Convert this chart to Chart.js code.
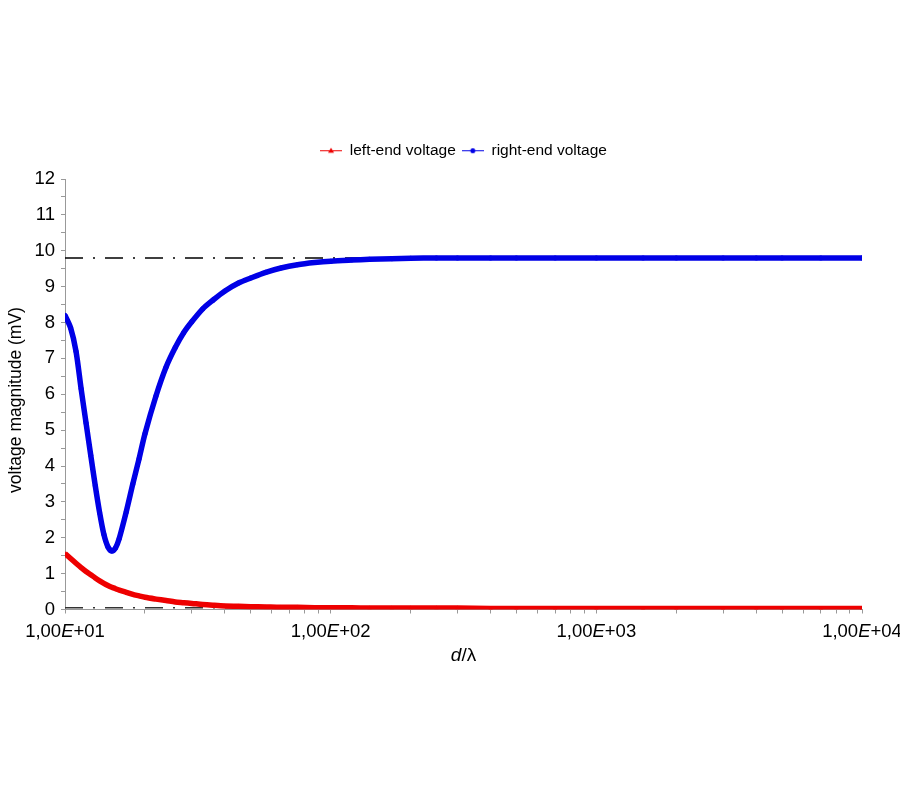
<!DOCTYPE html>
<html>
<head>
<meta charset="utf-8">
<script src="https://cdn.jsdelivr.net/npm/chart.js@4.4.1/dist/chart.umd.min.js"></script>
<style>
  body { margin: 0; background: #fff; }
</style>
</head>
<body>
<canvas id="voltageChart" width="900" height="800"></canvas>
<script>
// sample positions along d/lambda (log axis)
const ratios = [10, 10.5, 11, 11.5, 12, 12.5, 13, 13.5, 14, 14.5, 15, 15.5, 16, 17, 18, 19, 20, 22, 24, 26, 28, 30, 33, 36, 40, 45, 50, 57, 65, 75, 87, 100, 120, 140, 170, 200, 250, 300, 400, 500, 700, 1000, 1500, 2000, 3000, 4000, 5000, 7000, 10000];
const leftEnd = [1.56, 1.42, 1.29, 1.17, 1.06, 0.97, 0.88, 0.8, 0.73, 0.67, 0.62, 0.58, 0.54, 0.48, 0.42, 0.38, 0.34, 0.29, 0.25, 0.21, 0.19, 0.17, 0.14, 0.12, 0.1, 0.09, 0.08, 0.07, 0.06, 0.06, 0.05, 0.05, 0.05, 0.04, 0.04, 0.04, 0.04, 0.04, 0.03, 0.03, 0.03, 0.03, 0.03, 0.03, 0.03, 0.03, 0.03, 0.03, 0.03];
const rightEnd = [8.2, 7.85, 7.2, 6.15, 5.2, 4.3, 3.45, 2.7, 2.1, 1.75, 1.63, 1.72, 1.98, 2.72, 3.5, 4.2, 4.9, 5.95, 6.75, 7.3, 7.72, 8.02, 8.38, 8.62, 8.88, 9.1, 9.24, 9.4, 9.52, 9.61, 9.67, 9.71, 9.74, 9.76, 9.78, 9.79, 9.8, 9.8, 9.8, 9.8, 9.8, 9.8, 9.8, 9.8, 9.8, 9.8, 9.8, 9.8, 9.8];

// asymptote levels (dash-dot lines)
const refHigh = 9.8;
const refLow = 0.05;

const xTicks = [10, 20, 30, 40, 50, 60, 70, 80, 90, 100, 200, 300, 400, 500, 600, 700, 800, 900, 1000, 2000, 3000, 4000, 5000, 6000, 7000, 8000, 9000, 10000];
const xMajor = [10, 100, 1000, 10000];
const xMajorLabels = ['1,00E+01', '1,00E+02', '1,00E+03', '1,00E+04'];
const seriesNames = ['left-end voltage', 'right-end voltage'];
const yTitle = 'voltage magnitude (mV)';

const RED = '#ee0000';
const BLUE = '#0000e6';
const FONT = '"Liberation Sans", Arial, sans-serif';

const toPoints = ys => ratios.map((r, i) => ({ x: r, y: ys[i] }));
const flat = v => [{ x: ratios[0], y: v }, { x: ratios[ratios.length - 1], y: v }];

// little line+marker sample for the legend
function legendSample(color, marker) {
    const c = document.createElement('canvas');
    c.width = 22; c.height = 9;
    const g = c.getContext('2d');
    g.strokeStyle = color; g.fillStyle = color; g.lineWidth = 1;
    g.beginPath(); g.moveTo(0, 4.5); g.lineTo(22, 4.5); g.stroke();
    g.beginPath();
    if (marker === 'triangle') {
        g.moveTo(11, 1.5); g.lineTo(14, 6.5); g.lineTo(8, 6.5); g.closePath();
    } else {
        g.arc(11, 4.5, 2.5, 0, Math.PI * 2);
    }
    g.fill();
    return c;
}
const legendIcons = [legendSample(RED, 'triangle'), legendSample(BLUE, 'circle')];

function drawRun(ctx, segs, cx, y, size) {
    const widths = segs.map(([t, st]) => {
        ctx.font = st + size + 'px ' + FONT;
        return ctx.measureText(t).width;
    });
    let x = cx - widths.reduce((a, b) => a + b, 0) / 2;
    segs.forEach(([t, st], i) => {
        ctx.font = st + size + 'px ' + FONT;
        ctx.fillText(t, x, y);
        x += widths[i];
    });
}

// axis titles and x tick labels (italic parts)
const axisText = {
    id: 'axisText',
    beforeInit(chart) {
        const fit = chart.legend.fit;
        chart.legend.fit = function () {
            fit.call(this);
            this.height += 10.5;
        };
    },
    afterDraw(chart) {
        const ctx = chart.ctx;
        const xs = chart.scales.x;
        ctx.save();
        ctx.fillStyle = '#000';
        ctx.textBaseline = 'middle';
        ctx.textAlign = 'left';
        xMajorLabels.forEach((label, i) => {
            const parts = label.split('E');
            drawRun(ctx, [[parts[0], ''], ['E', 'italic '], [parts[1], '']], xs.getPixelForValue(xMajor[i]), 632, 18.5);
        });
        const mid = (chart.chartArea.left + chart.chartArea.right) / 2;
        drawRun(ctx, [['d', 'italic '], ['/\u03bb', '']], mid, 656, 19);

        ctx.translate(16, 400);
        ctx.rotate(-Math.PI / 2);
        ctx.textAlign = 'center';
        ctx.font = '17.5px ' + FONT;
        ctx.fillText(yTitle, 0, 0);
        ctx.restore();
    }
};

new Chart(document.getElementById('voltageChart'), {
    type: 'line',
    data: {
        datasets: [
            {
                label: seriesNames[0],
                data: toPoints(leftEnd),
                borderColor: RED,
                backgroundColor: RED,
                borderWidth: 5.5,
                pointStyle: 'triangle',
                pointRadius: 2.5,
                pointBorderWidth: 0,
                tension: 0.3,
                order: 2
            },
            {
                label: seriesNames[1],
                data: toPoints(rightEnd),
                borderColor: BLUE,
                backgroundColor: BLUE,
                borderWidth: 5.5,
                pointStyle: 'circle',
                pointRadius: 2.5,
                pointBorderWidth: 0,
                tension: 0.3,
                order: 1
            },
            {
                label: 'ref-high',
                data: flat(refHigh),
                borderColor: '#000',
                borderWidth: 1.5,
                borderDash: [18, 10, 2, 10],
                pointRadius: 0,
                order: 10
            },
            {
                label: 'ref-low',
                data: flat(refLow),
                borderColor: '#333',
                borderWidth: 1.5,
                borderDash: [18, 10, 2, 10],
                pointRadius: 0,
                order: 11
            }
        ]
    },
    options: {
        responsive: false,
        animation: false,
        layout: { padding: { top: 137, right: 38, left: 0, bottom: 0 } },
        plugins: {
            tooltip: { enabled: false },
            legend: {
                position: 'top',
                fullSize: false,
                labels: {
                    usePointStyle: true,
                    pointStyleWidth: 22,
                    padding: 6,
                    color: '#000',
                    font: { family: FONT, size: 15.5 },
                    generateLabels: () => seriesNames.map((name, i) => ({
                        text: name,
                        pointStyle: legendIcons[i],
                        fillStyle: i ? BLUE : RED,
                        strokeStyle: i ? BLUE : RED,
                        lineWidth: 0,
                        datasetIndex: i
                    }))
                }
            }
        },
        scales: {
            x: {
                type: 'logarithmic',
                min: 10,
                max: 10000,
                afterBuildTicks: s => { s.ticks = xTicks.map(v => ({ value: v })); },
                ticks: { autoSkip: false, maxRotation: 0, callback: () => '' },
                grid: { drawOnChartArea: false, tickLength: 4, color: '#999' },
                border: { color: '#999' },
                afterFit: s => { s.height = 190.5; }
            },
            y: {
                min: 0,
                max: 12,
                ticks: {
                    stepSize: 0.5,
                    autoSkip: false,
                    padding: 6,
                    color: '#000',
                    font: { family: FONT, size: 18.5 },
                    callback: v => Number.isInteger(v) ? v : ''
                },
                grid: { drawOnChartArea: false, tickLength: 4, color: '#999' },
                border: { color: '#999' },
                afterFit: s => { s.width = 65; }
            }
        }
    },
    plugins: [axisText]
});
</script>
</body>
</html>
